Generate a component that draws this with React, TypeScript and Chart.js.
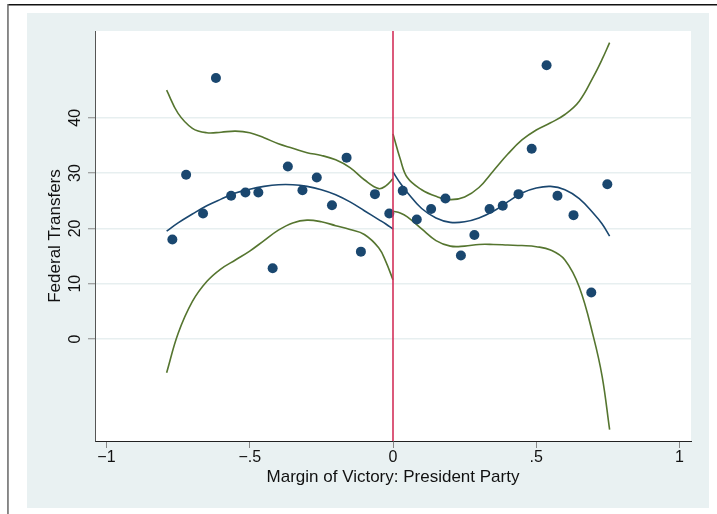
import { useEffect, useRef } from "react";
import { Chart, registerables } from "chart.js";

Chart.register(...registerables);

const FONT = '"Liberation Sans", Arial, Helvetica, sans-serif';

// Binned means of federal transfers by presidential-party margin of victory
const binX = [
  -0.770, -0.722, -0.663, -0.618, -0.565, -0.515, -0.470, -0.420, -0.367, -0.316,
  -0.266, -0.213, -0.162, -0.112, -0.063, -0.013,
  0.034, 0.083, 0.133, 0.183, 0.237, 0.284, 0.337, 0.383, 0.438, 0.484,
  0.536, 0.574, 0.630, 0.692, 0.748,
];
const binY = [
  18.0, 29.7, 22.7, 47.2, 25.9, 26.5, 26.5, 12.8, 31.2, 26.9,
  29.2, 24.2, 32.8, 15.8, 26.2, 22.7,
  26.8, 21.6, 23.5, 25.4, 15.1, 18.8, 23.5, 24.1, 26.2, 34.4,
  49.5, 25.9, 22.4, 8.4, 28.0,
];

// Fitted polynomial and confidence band, left of the cutoff
const leftX = [-0.79, -0.75, -0.7, -0.65, -0.6, -0.55, -0.5, -0.45, -0.4, -0.35, -0.3, -0.25, -0.2, -0.15, -0.1, -0.05, -0.025, 0];
const leftFit = [19.5, 21.0, 22.6, 24.1, 25.3, 26.4, 27.1, 27.6, 27.9, 27.9, 27.6, 27.0, 26.1, 24.8, 23.2, 21.6, 20.8, 19.9];
const leftUpper = [45.0, 40.8, 38.1, 37.3, 37.4, 37.6, 37.3, 36.4, 35.3, 34.5, 33.7, 33.2, 32.4, 31.0, 28.8, 27.2, 27.7, 29.0];
const leftLower = [-6.1, 1.0, 6.8, 10.4, 12.7, 14.3, 15.9, 17.8, 19.7, 21.0, 21.5, 21.2, 20.5, 19.8, 18.9, 16.5, 14.0, 10.7];

// Fitted polynomial and confidence band, right of the cutoff
const rightX = [0, 0.025, 0.05, 0.1, 0.15, 0.2, 0.25, 0.3, 0.35, 0.4, 0.45, 0.5, 0.55, 0.6, 0.65, 0.7, 0.73, 0.756];
const rightFit = [30.2, 28.2, 26.5, 23.6, 21.9, 21.1, 21.2, 21.9, 23.1, 24.8, 26.4, 27.3, 27.6, 27.0, 25.4, 22.7, 20.8, 18.6];
const rightUpper = [37.1, 32.6, 29.2, 27.0, 25.8, 25.2, 25.7, 27.4, 30.4, 33.4, 36.0, 37.8, 39.1, 40.6, 43.0, 47.5, 50.6, 53.6];
const rightLower = [23.1, 22.8, 22.1, 19.9, 17.8, 16.8, 16.8, 17.1, 17.1, 17.0, 16.9, 16.7, 16.1, 14.3, 9.4, 0.3, -6.8, -16.4];

const xTicks = [-1, -0.5, 0, 0.5, 1];
const xTickLabels = ["\u22121", "\u2212.5", "0", ".5", "1"];
const yTicks = [0, 10, 20, 30, 40];
const yTickLabels = ["0", "10", "20", "30", "40"];

const X_MIN = -1.04;
const X_MAX = 1.04;
const Y_MIN = -18.44;
const Y_MAX = 55.7;
const CUTOFF = 0;

const NAVY = "#1a476f";
const GREEN = "#55752f";
const CUT_RED = "#d3305a";

const pts = (xs: number[], ys: number[]) => xs.map((x, i) => ({ x, y: ys[i] }));

const curve = (xs: number[], ys: number[], color: string) => ({
  data: pts(xs, ys),
  showLine: true,
  borderColor: color,
  borderWidth: 1.6,
  pointRadius: 0,
  tension: 0.4,
  order: 2,
});

// Graph region, plot region and outer frame
const backdrop = {
  id: "backdrop",
  beforeDraw(chart: any) {
    const { ctx, chartArea: a, width, height } = chart;
    ctx.save();
    ctx.fillStyle = "#ffffff";
    ctx.fillRect(0, 0, width, height);
    ctx.fillStyle = "#e9f1f2";
    ctx.fillRect(27, 13, width - 27 - 8, height - 13 - 6);
    ctx.fillStyle = "#ffffff";
    ctx.fillRect(a.left, a.top, a.right - a.left, a.bottom - a.top);
    ctx.fillStyle = "#111111";
    ctx.fillRect(8, 4, width - 8, 1.5);
    ctx.fillStyle = "#666666";
    ctx.fillRect(7.2, 4, 1.5, height - 4);
    ctx.restore();
  },
};

// Vertical tick labels on the y axis
const yLabels = {
  id: "yLabels",
  afterDraw(chart: any) {
    const { ctx } = chart;
    const ys = chart.scales.y;
    ctx.save();
    ctx.fillStyle = "#111111";
    ctx.font = `16px ${FONT}`;
    ctx.textAlign = "center";
    ctx.textBaseline = "alphabetic";
    yTicks.forEach((v, i) => {
      const py = ys.getPixelForValue(v);
      ctx.save();
      ctx.translate(ys.right - 15, py);
      ctx.rotate(-Math.PI / 2);
      ctx.fillText(yTickLabels[i], 0, 0);
      ctx.restore();
    });
    ctx.restore();
  },
};

export default function App() {
  const ref = useRef<HTMLCanvasElement>(null);

  useEffect(() => {
    document.body.style.margin = "0";
    const canvas = ref.current;
    if (!canvas) return;

    const chart = new Chart(canvas, {
      type: "scatter",
      data: {
        datasets: [
          {
            data: [
              { x: CUTOFF, y: Y_MIN },
              { x: CUTOFF, y: Y_MAX },
            ],
            showLine: true,
            borderColor: CUT_RED,
            borderWidth: 1.6,
            pointRadius: 0,
            order: 0,
          },
          {
            data: pts(binX, binY),
            backgroundColor: NAVY,
            borderColor: NAVY,
            borderWidth: 0,
            pointRadius: 5,
            order: 1,
          },
          curve(leftX, leftUpper, GREEN),
          curve(leftX, leftLower, GREEN),
          curve(rightX, rightUpper, GREEN),
          curve(rightX, rightLower, GREEN),
          curve(leftX, leftFit, NAVY),
          curve(rightX, rightFit, NAVY),
        ],
      },
      options: {
        responsive: false,
        maintainAspectRatio: false,
        animation: false,
        layout: { padding: { left: 25, top: 31, right: 26, bottom: 23 } },
        plugins: {
          legend: { display: false },
          tooltip: { enabled: false },
        },
        scales: {
          x: {
            type: "linear",
            min: X_MIN,
            max: X_MAX,
            afterBuildTicks: (s: any) => {
              s.ticks = xTicks.map((v) => ({ value: v }));
            },
            afterFit: (s: any) => {
              s.height = 50;
            },
            grid: {
              drawOnChartArea: false,
              drawTicks: true,
              tickLength: 7,
              tickColor: "#888888",
              tickWidth: 1,
            },
            border: { display: true, color: "#222222", width: 1 },
            ticks: {
              autoSkip: false,
              maxRotation: 0,
              minRotation: 0,
              padding: 0,
              color: "#111111",
              font: { family: FONT, size: 16 },
              callback: (v: any) => {
                const i = xTicks.indexOf(Number(v));
                return i >= 0 ? xTickLabels[i] : "";
              },
            },
            title: {
              display: true,
              text: "Margin of Victory: President Party",
              color: "#111111",
              font: { family: FONT, size: 17 },
              padding: { top: 0, bottom: 3 },
            },
          },
          y: {
            type: "linear",
            min: Y_MIN,
            max: Y_MAX,
            afterBuildTicks: (s: any) => {
              s.ticks = yTicks.map((v) => ({ value: v }));
            },
            afterFit: (s: any) => {
              s.width = 70;
            },
            grid: {
              drawOnChartArea: true,
              color: "#e7eff0",
              lineWidth: 1.5,
              drawTicks: true,
              tickLength: 7,
              tickColor: "#888888",
              tickWidth: 1,
            },
            border: { display: true, color: "#555555", width: 1 },
            ticks: { display: false },
            title: {
              display: true,
              text: "Federal Transfers",
              color: "#111111",
              font: { family: FONT, size: 17 },
              padding: { top: 20, bottom: 0 },
            },
          },
        },
      },
      plugins: [backdrop, yLabels],
    });

    return () => chart.destroy();
  }, []);

  return (
    <div style={{ width: 717, height: 514 }}>
      <canvas ref={ref} width={717} height={514} style={{ display: "block" }} />
    </div>
  );
}
